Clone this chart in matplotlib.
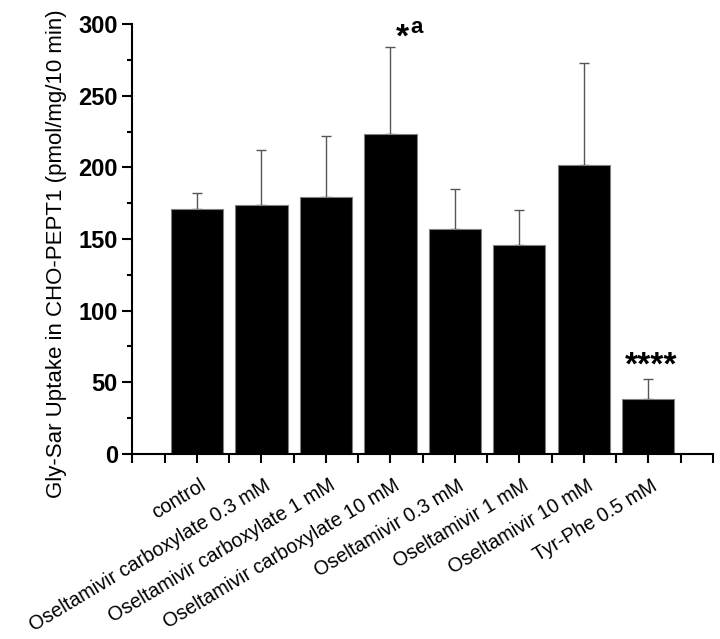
import numpy as np
import matplotlib.pyplot as plt
from matplotlib.ticker import MultipleLocator

plt.rcParams['font.family'] = ['Liberation Sans', 'DejaVu Sans']

# dati
categories = ["control",
              "Oseltamivir carboxylate 0.3 mM",
              "Oseltamivir carboxylate 1 mM",
              "Oseltamivir carboxylate 10 mM",
              "Oseltamivir 0.3 mM",
              "Oseltamivir 1 mM",
              "Oseltamivir 10 mM",
              "Tyr-Phe 0.5 mM"]
uptake = [171, 174, 179, 223, 157, 146, 202, 38]
sd = [11, 38, 43, 61, 28, 24, 71, 14]

fig = plt.figure(figsize=(7.2, 6.39), dpi=100)
ax = fig.add_axes([0.184, 0.290, 0.806, 0.672])

x = np.arange(1, len(categories) + 1)
ax.bar(x, uptake, width=0.81, color='black', edgecolor='#808080', linewidth=0.8, zorder=2)
ax.errorbar(x, uptake, yerr=[np.zeros(len(sd)), sd], fmt='none',
            ecolor='#555555', elinewidth=1.0, capsize=3.3, capthick=1.0, zorder=1)

# asterischi
ax.text(4.19, 284.5, '*', fontsize=24, fontweight='bold', ha='center', va='baseline')
ax.text(4.40, 294, 'a', fontsize=16, fontweight='bold', ha='center', va='baseline')
ax.text(8.04, 55, '****', fontsize=24, fontweight='bold', ha='center', va='baseline')

ax.set_xlim(0, 9)
ax.set_ylim(0, 300)
ax.spines['top'].set_visible(False)
ax.spines['right'].set_visible(False)
for s in ['left', 'bottom']:
    ax.spines[s].set_linewidth(1.5)

ax.yaxis.set_major_locator(MultipleLocator(50))
ax.yaxis.set_minor_locator(MultipleLocator(25))
ax.tick_params(axis='y', which='major', length=7, width=1.5, labelsize=17)
ax.tick_params(axis='y', which='minor', length=3.5, width=1.5)
for lab in ax.get_yticklabels():
    lab.set_fontweight('bold')

ax.set_xticks(np.arange(0, 9.01, 0.5))
ax.set_xticklabels([''] * 19)
ax.tick_params(axis='x', which='major', length=6.5, width=1.5)
for xi, name in zip(x, categories):
    ax.annotate(name, xy=(xi, 0), xycoords=('data', 'axes fraction'),
                xytext=(2, -16), textcoords='offset points',
                rotation=31, ha='right', va='top', rotation_mode='anchor', fontsize=14.2)

ax.set_ylabel("Gly-Sar Uptake in CHO-PEPT1 (pmol/mg/10 min)", fontsize=16)
ax.yaxis.set_label_coords(-0.113, 0.465)

fig.savefig('out.png', dpi=100)
